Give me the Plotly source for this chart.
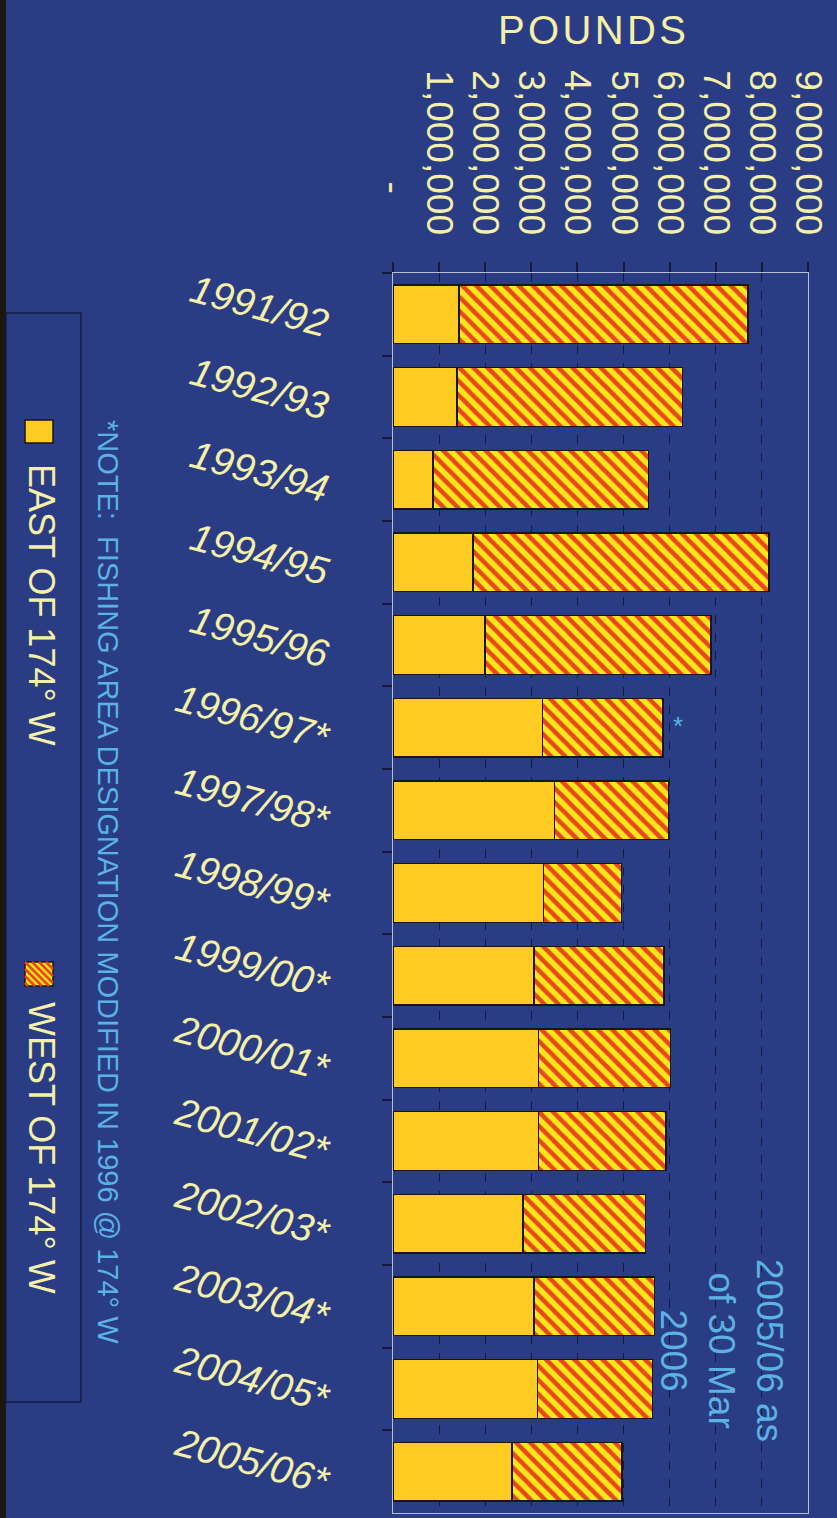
import plotly.graph_objects as go

# Season labels (top to bottom)
SEASONS = ["1991/92", "1992/93", "1993/94", "1994/95", "1995/96",
           "1996/97*", "1997/98*", "1998/99*", "1999/00*", "2000/01*",
           "2001/02*", "2002/03*", "2003/04*", "2004/05*", "2005/06*"]

# Catch in pounds
EAST_OF_174W = [1430000, 1390000, 870000, 1740000, 2000000,
                3240000, 3500000, 3260000, 3060000, 3160000,
                3160000, 2820000, 3060000, 3130000, 2580000]
WEST_OF_174W = [6270000, 4890000, 4670000, 6410000, 4900000,
                2610000, 2470000, 1690000, 2820000, 2860000,
                2760000, 2660000, 2610000, 2500000, 2390000]

X_TICK_VALUES = [0, 1000000, 2000000, 3000000, 4000000,
                 5000000, 6000000, 7000000, 8000000, 9000000]
# accounting-style zero: a dash padded like the other labels
X_TICK_LABELS = ["-\u00a0\u00a0\u00a0\u00a0", "1,000,000", "2,000,000", "3,000,000", "4,000,000",
                 "5,000,000", "6,000,000", "7,000,000", "8,000,000", "9,000,000"]

W_PX, H_PX = 837, 1518
L, R, T, B = 393, 808, 273, 1513

BG = "#2a3d84"
CREAM = "#f4f0a8"
SKY = "#5bb2e3"
EAST_COLOR = "#fdcb22"
STRIPE_RED = "#e8461c"
STRIPE_YELLOW = "#ffe619"
FONT = "Liberation Sans, Arial, sans-serif"


def px(x):
    return (x - L) / (R - L)


def py(y):
    return (B - y) / (B - T)


fig = go.Figure()
fig.add_trace(go.Bar(
    y=SEASONS, x=EAST_OF_174W, orientation="h", name="EAST OF 174° W",
    marker=dict(color=EAST_COLOR, line=dict(color="#161616", width=1.5)),
    showlegend=False,
))
fig.add_trace(go.Bar(
    y=SEASONS, x=WEST_OF_174W, orientation="h", name="WEST OF 174° W",
    marker=dict(color=STRIPE_YELLOW, line=dict(color="#161616", width=1.5),
                pattern=dict(shape="\\", fgcolor=STRIPE_RED, bgcolor=STRIPE_YELLOW,
                             size=10, solidity=0.45, fillmode="replace")),
    showlegend=False,
))

shapes = [
    # dark edge at far left
    dict(type="rect", xref="paper", yref="paper", x0=px(0), x1=px(6), y0=py(0), y1=py(H_PX),
         fillcolor="#1c1612", line=dict(width=0), layer="below"),
    # legend frame
    dict(type="rect", xref="paper", yref="paper", x0=px(6), x1=px(81), y0=py(313), y1=py(1402),
         line=dict(color="#161c40", width=1.5)),
    # legend swatches
    dict(type="rect", xref="paper", yref="paper", x0=px(25), x1=px(53), y0=py(420), y1=py(443),
         fillcolor=EAST_COLOR, line=dict(color="#161616", width=1.5)),
    dict(type="rect", xref="paper", yref="paper", x0=px(25), x1=px(53), y0=py(962), y1=py(986),
         fillcolor=STRIPE_YELLOW, line=dict(color="#161616", width=1.5)),
]
# stripes on the west swatch
for k in range(-3, 6):
    x0 = 25 + k * 7
    if x0 + 24 > 25 and x0 < 53:
        shapes.append(dict(type="line", xref="paper", yref="paper",
                           x0=px(max(x0, 25)), y0=py(962 + max(0, 25 - x0)),
                           x1=px(min(x0 + 24, 53)), y1=py(962 + min(24, 53 - x0)),
                           line=dict(color=STRIPE_RED, width=2.5)))


def label(text, x, y, size, color, angle=0):
    return dict(text=text, xref="paper", yref="paper", x=px(x), y=py(y),
                xanchor="center", yanchor="middle", textangle=angle,
                showarrow=False, font=dict(family=FONT, size=size, color=color))


annotations = [
    label("P\u200aO\u200aU\u200aN\u200aD\u200aS", 592, 30, 40, CREAM),
    label("EAST OF 174° W", 42, 605, 36, CREAM, 90),
    label("WEST OF 174° W", 42, 1148, 36, CREAM, 90),
    label("*NOTE:  FISHING AREA DESIGNATION MODIFIED IN 1996 @ 174° W", 108, 882, 29, SKY, 90),
    label("2005/06 as<br>of 30 Mar<br>2006", 722, 1350, 37, SKY, 90),
    dict(text="*", x=EAST_OF_174W[5] + WEST_OF_174W[5], y=SEASONS[5],
         xanchor="left", yanchor="middle", xshift=8, yshift=2, showarrow=False,
         font=dict(family=FONT, size=26, color=SKY)),
]

fig.update_layout(
    width=W_PX, height=H_PX, autosize=False,
    margin=dict(l=L, r=W_PX - R, t=T, b=H_PX - B),
    paper_bgcolor=BG, plot_bgcolor=BG,
    barmode="stack", bargap=0.29,
    shapes=shapes, annotations=annotations,
    xaxis=dict(
        side="top", range=[0, 9000000], tickmode="array",
        tickvals=X_TICK_VALUES, ticktext=X_TICK_LABELS, tickangle=90,
        tickfont=dict(family=FONT, size=37, color=CREAM),
        ticks="outside", ticklen=10, tickcolor="#151a38", tickwidth=1.5,
        ticklabelstandoff=14,
        showgrid=True, gridcolor="#141a42", griddash="dash", gridwidth=1.2,
        zeroline=False, showline=True, linecolor="#b9bdcc", linewidth=1.2, mirror=True,
    ),
    yaxis=dict(
        autorange="reversed", tickangle=15,
        tickfont=dict(family=FONT, size=39, color=CREAM, style="italic"),
        ticks="outside", ticklen=10, tickcolor="#151a38", tickwidth=1.5,
        tickson="boundaries", ticklabelstandoff=55, ticklabelshift=-10,
        showgrid=False, zeroline=False,
        showline=True, linecolor="#b9bdcc", linewidth=1.2, mirror=True,
    ),
)

fig.write_html("out.html")
